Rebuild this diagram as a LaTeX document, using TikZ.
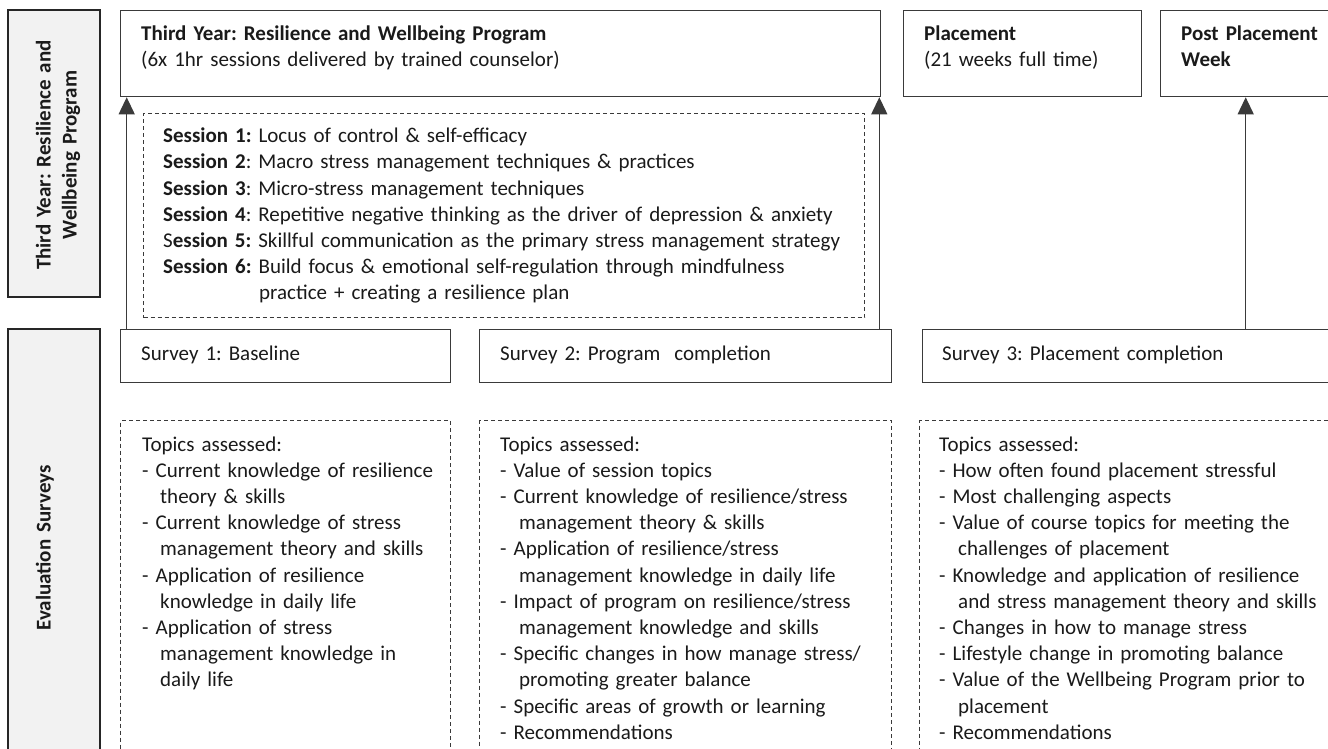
\documentclass[tikz,border=0pt]{standalone}
\usepackage{fontspec}
\setmainfont{Carlito}
\usetikzlibrary{arrows.meta}
\definecolor{linegray}{HTML}{3A3A3A}
\definecolor{sidefill}{HTML}{F2F2F2}
\definecolor{inkcol}{HTML}{1A1A1A}
\frenchspacing
\begin{document}
\begin{tikzpicture}[x=1pt,y=-1pt,
  frame/.style={draw=linegray, line width=1.3pt},
  sidebar/.style={draw=black!85, line width=2.2pt, fill=sidefill},
  dashbox/.style={draw=linegray, line width=1pt, dash pattern=on 4pt off 3pt},
  txt/.style={anchor=base west, inner sep=0pt, align=left, text width=420pt,
    text=inkcol, font=\fontsize{21}{26.2}\selectfont},
  vtxt/.style={rotate=90, inner sep=0pt, align=center, text width=300pt,
    text=inkcol, font=\bfseries\fontsize{21}{26.2}\selectfont, anchor=base},
  flow/.style={draw=linegray, line width=1.2pt, -{Triangle[width=16pt,length=17pt]}}
]
\useasboundingbox (0,0) rectangle (1328,749);
\clip (0,0) rectangle (1328,749);

% side bars
\draw[sidebar] (8,10) rectangle (100,297);
\draw[sidebar] (8,329) rectangle (100,780);
\node[vtxt] (sideA) at (50.5,155) {Third Year: Resilience and\\Wellbeing Program};
\node[vtxt] (sideB) at (50.7,548) {Evaluation Surveys};

% upper row of stage boxes
\node[frame, anchor=north west, minimum width=760pt, minimum height=86pt] (prog) at (120,10) {};
\node[frame, anchor=north west, minimum width=238pt, minimum height=86pt] (place) at (903,10) {};
\node[frame, anchor=north west, minimum width=190pt, minimum height=86pt] (post) at (1160,10) {};

\node[txt] (progT) at (141,40.5) {\textbf{Third Year: Resilience and Wellbeing Program}\\(6x 1hr sessions delivered by trained counselor)};
\node[txt] (placeT) at (924,40.5) {\textbf{Placement}\\(21 weeks full time)};
\node[txt] (postT) at (1181,40.5) {\textbf{Post Placement}\\\textbf{Week}};

% session list
\node[dashbox, anchor=north west, minimum width=721pt, minimum height=204pt] (sess) at (143,113) {};
\node[txt, text width=700pt] (sessT) at (163,142.7) {%
\textbf{Session 1:} Locus of control \& self-efficacy\\
\textbf{Session 2}: Macro stress management techniques \& practices\\
\textbf{Session 3}: Micro-stress management techniques\\
\textbf{Session 4}: Repetitive negative thinking as the driver of depression \& anxiety\\
S\textbf{ession 5:} Skillful communication as the primary stress management strategy\\
\textbf{Session 6:} Build focus \& emotional self-regulation through mindfulness\\
\hspace*{96pt}practice + creating a resilience plan};

% survey row
\node[frame, anchor=north west, minimum width=330pt, minimum height=53pt] (s1) at (120,329) {};
\node[frame, anchor=north west, minimum width=412pt, minimum height=53pt] (s2) at (479,329) {};
\node[frame, anchor=north west, minimum width=420pt, minimum height=53pt] (s3) at (922,329) {};
\node[txt] (s1T) at (141,360) {Survey 1: Baseline};
\node[txt] (s2T) at (500,360) {Survey 2: Program\ \ completion};
\node[txt] (s3T) at (942,360) {Survey 3: Placement completion};

% arrows from surveys up to the stages
\coordinate (a1) at (126.7,329);
\coordinate (a2) at (879.3,329);
\coordinate (a3) at (1245.7,329);
\draw[flow] (a1) -- (a1 |- prog.south);
\draw[flow] (a2) -- (a2 |- prog.south);
\draw[flow] (a3) -- (a3 |- post.south);

% topics assessed
\node[dashbox, anchor=north west, minimum width=330pt, minimum height=360pt] (t1) at (120,420) {};
\node[dashbox, anchor=north west, minimum width=412pt, minimum height=360pt] (t2) at (479,420) {};
\node[dashbox, anchor=north west, minimum width=430pt, minimum height=360pt] (t3) at (919,420) {};

\node[txt] (t1T) at (142,451) {Topics assessed:\\
- Current knowledge of resilience\\
\hspace*{18pt}theory \& skills\\
- Current knowledge of stress\\
\hspace*{18pt}management theory and skills\\
- Application of resilience\\
\hspace*{18pt}knowledge in daily life\\
- Application of stress\\
\hspace*{18pt}management knowledge in\\
\hspace*{18pt}daily life};

\node[txt] (t2T) at (500,451) {Topics assessed:\\
- Value of session topics\\
- Current knowledge of resilience/stress\\
\hspace*{19pt}management theory \& skills\\
- Application of resilience/stress\\
\hspace*{19pt}management knowledge in daily life\\
- Impact of program on resilience/stress\\
\hspace*{19pt}management knowledge and skills\\
- Specific changes in how manage stress/\\
\hspace*{19pt}promoting greater balance\\
- Specific areas of growth or learning\\
- Recommendations};

\node[txt] (t3T) at (939,451) {Topics assessed:\\
- How often found placement stressful\\
- Most challenging aspects\\
- Value of course topics for meeting the\\
\hspace*{19pt}challenges of placement\\
- Knowledge and application of resilience\\
\hspace*{19pt}and stress management theory and skills\\
- Changes in how to manage stress\\
- Lifestyle change in promoting balance\\
- Value of the Wellbeing Program prior to\\
\hspace*{19pt}placement\\
- Recommendations};
\end{tikzpicture}
\end{document}
